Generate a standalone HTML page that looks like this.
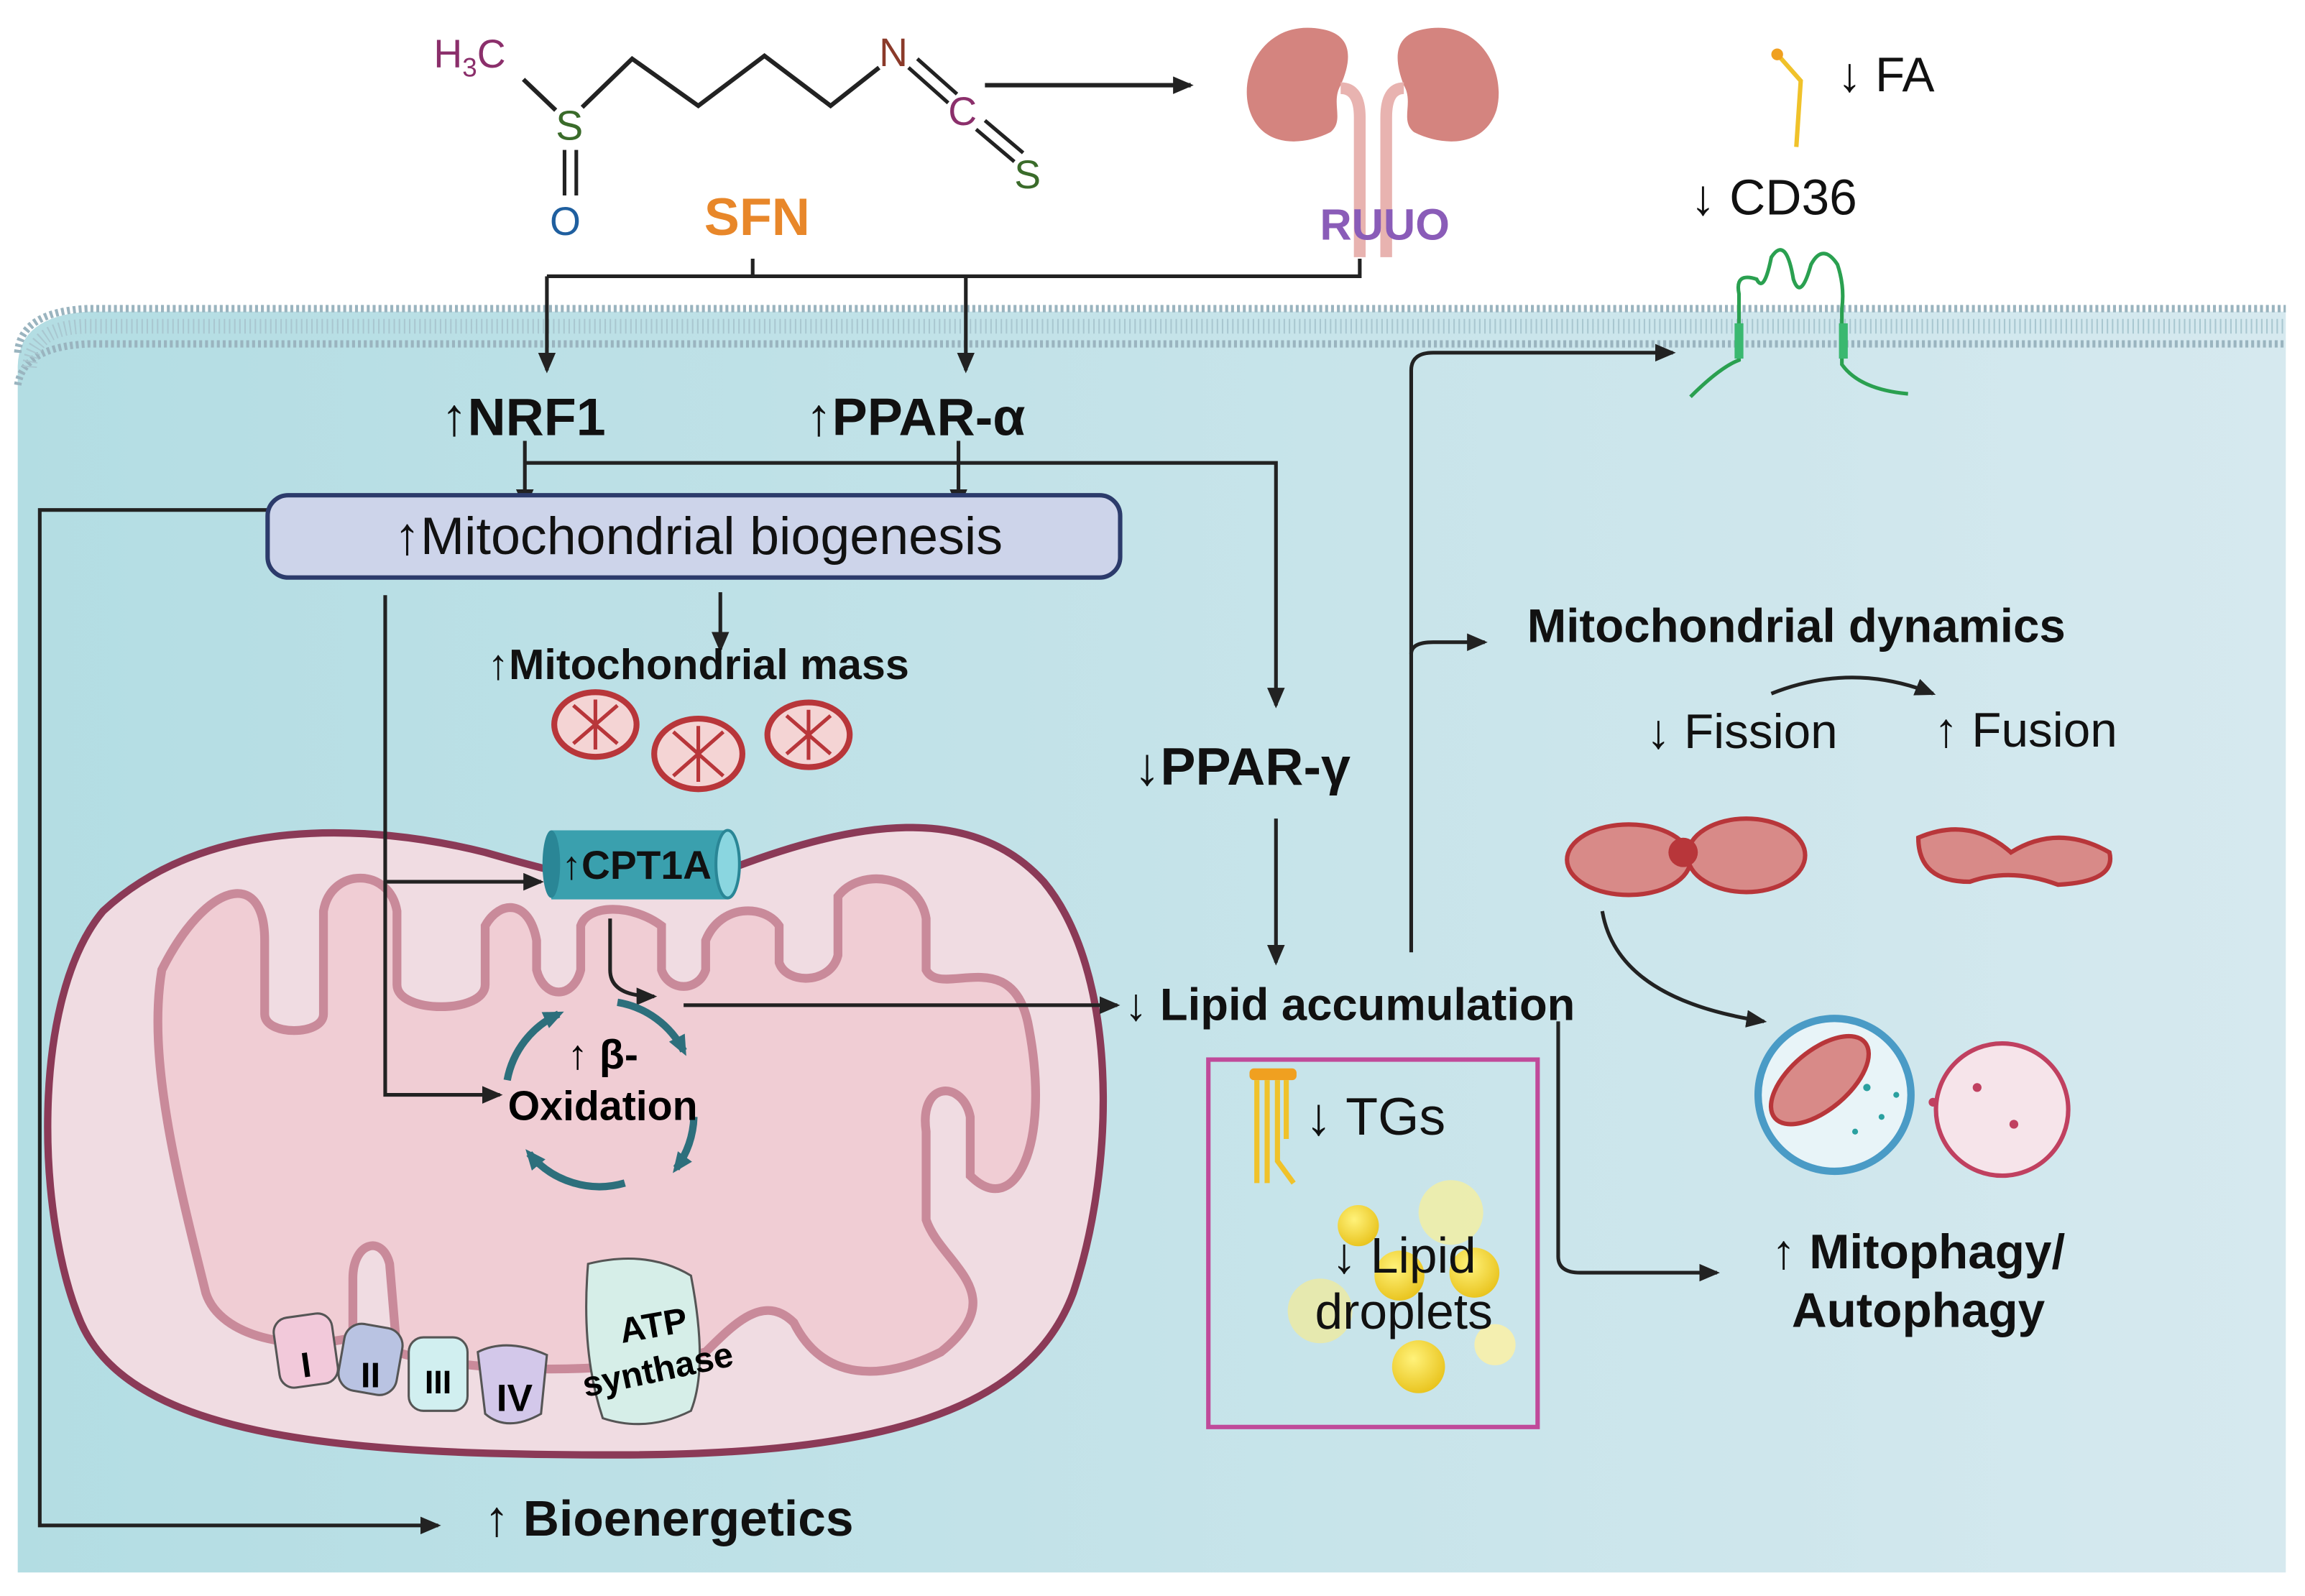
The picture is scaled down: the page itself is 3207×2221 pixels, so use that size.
<!DOCTYPE html>
<html><head><meta charset="utf-8"><style>html,body{margin:0;padding:0;background:#fff}svg{display:block}text{font-family:"Liberation Sans",sans-serif}</style></head>
<body>
<svg width="3207" height="2221" viewBox="0 0 1568 1086" xmlns="http://www.w3.org/2000/svg">
<defs>
<linearGradient id="cell" x1="0" x2="1" y1="0" y2="0"><stop offset="0" stop-color="#b3dde3"/><stop offset="1" stop-color="#d6e9ef"/></linearGradient>
<marker id="ar2" markerWidth="14" markerHeight="12" refX="12" refY="6" orient="auto" markerUnits="userSpaceOnUse"><path d="M0,0 L14,6 L0,12 Z" fill="#222"/></marker>
<marker id="tar" markerWidth="14" markerHeight="12" refX="10" refY="6" orient="auto" markerUnits="userSpaceOnUse"><path d="M0,0 L14,6 L0,12 Z" fill="#2d6f7c"/></marker>
<radialGradient id="lp" cx="0.4" cy="0.35" r="0.7"><stop offset="0" stop-color="#fff27a"/><stop offset="1" stop-color="#e8c21a"/></radialGradient>
</defs>
<path d="M12,250 Q12,215 60,212 L1555,212 L1555,1070 L12,1070 Z" fill="url(#cell)"/>
<path d="M12,240 Q14,212 60,210 L1555,210" fill="none" stroke="#9ab4bf" stroke-width="5" stroke-dasharray="2 2"/>
<path d="M12,262 Q16,236 60,234 L1555,234" fill="none" stroke="#9ab4bf" stroke-width="5" stroke-dasharray="2 2"/>
<path d="M20,250 Q22,222 60,222 L1555,222" fill="none" stroke="#a9c7d0" stroke-width="10" stroke-dasharray="1 2.5"/>
<text x="295" y="46" font-size="27" fill="#8b2f6b">H<tspan font-size="18" dy="6">3</tspan><tspan dy="-6">C</tspan></text>
<path d="M356,54 L378,75 M396,73 L430,40 L475,72 L520,38 L565,72 L598,46" stroke="#222" stroke-width="3" fill="none"/>
<text x="378" y="95" font-size="28" fill="#3a6b2a">S</text>
<path d="M384,102 V133 M392,102 V133" stroke="#222" stroke-width="2.5"/>
<text x="374" y="160" font-size="27" fill="#1f5f9f">O</text>
<text x="598" y="45" font-size="27" fill="#8b3a2a">N</text>
<path d="M618,46 L645,70 M624,40 L651,64" stroke="#222" stroke-width="2.5"/>
<text x="645" y="85" font-size="27" fill="#8b2f6b">C</text>
<path d="M664,88 L690,110 M670,82 L696,104" stroke="#222" stroke-width="2.5"/>
<text x="690" y="128" font-size="27" fill="#3a6b2a">S</text>
<line x1="670" y1="58" x2="810" y2="58" stroke="#222" stroke-width="3" marker-end="url(#ar2)"/>
<path d="M900,20 C860,12 842,50 850,75 C858,100 885,100 905,90 C915,82 905,70 912,58 C920,40 920,24 900,20 Z" fill="#d4847f"/>
<path d="M968,20 C1008,12 1025,50 1018,75 C1010,100 982,100 962,90 C952,82 962,70 955,58 C948,40 948,24 968,20 Z" fill="#d4847f"/>
<path d="M912,60 Q925,60 925,80 V175 M955,60 Q943,60 943,80 V175" fill="none" stroke="#e8b3b0" stroke-width="8"/>
<text x="515" y="160" font-size="36" font-weight="bold" fill="#e8872a" text-anchor="middle">SFN</text>
<text x="942" y="163" font-size="30" font-weight="bold" fill="#8a5cb8" text-anchor="middle">RUUO</text>
<!-- big mitochondrion -->
<path d="M70,620 C140,555 250,560 330,580 C400,600 440,610 500,590 C580,560 660,545 710,600 C760,660 760,790 730,880 C700,960 600,990 420,990 C240,990 90,980 55,900 C25,830 20,680 70,620 Z" fill="#f0dce2" stroke="#8b3a57" stroke-width="5"/>
<path d="M110,660 C140,600 180,590 180,640 V690 C180,705 220,705 220,690 V620 C225,590 265,590 270,620 V670 C270,690 330,690 330,670 V630 C340,612 360,612 365,640 V660 C370,680 390,680 395,660 V630 C400,615 430,615 450,630 V660 C455,675 475,675 480,660 V640 C490,615 520,615 530,630 V655 C535,670 565,670 570,650 V610 C585,590 625,595 630,625 V660 C640,680 690,640 700,700 C715,780 690,830 660,800 V760 C655,735 625,735 630,770 V830 C640,860 690,880 640,920 C600,940 560,940 540,900 C520,880 500,900 480,920 C400,940 300,930 270,920 L265,860 C260,840 240,845 240,870 V910 C200,920 150,910 140,880 C120,800 100,720 110,660 Z" fill="#f0cdd4" stroke="#c98a9a" stroke-width="6"/>
<g stroke="#222" stroke-width="2.5" fill="none">
<path d="M512,176 V188 M372,188 H925 V176"/>
<path d="M372,188 V252" marker-end="url(#ar2)"/>
<path d="M657,188 V252" marker-end="url(#ar2)"/>
<path d="M357,315 H868 V480" marker-end="url(#ar2)"/>
<path d="M357,300 V345" marker-end="url(#ar2)"/>
<path d="M652,300 V345" marker-end="url(#ar2)"/>
<path d="M182,347 H27 V1038 H298" marker-end="url(#ar2)"/>
<path d="M490,403 V442" marker-end="url(#ar2)"/>
<path d="M262,405 V745 H340" marker-end="url(#ar2)"/>
<path d="M262,600 H368" marker-end="url(#ar2)"/>
<path d="M868,557 V655" marker-end="url(#ar2)"/>
<path d="M960,648 V252 Q960,240 975,240 H1138" marker-end="url(#ar2)"/>
<path d="M960,445 Q960,437 975,437 H1010" marker-end="url(#ar2)"/>
<path d="M1060,695 V855 Q1060,866 1075,866 H1168" marker-end="url(#ar2)"/>
<path d="M1205,472 Q1260,450 1315,472" marker-end="url(#ar2)"/>
<path d="M1090,620 Q1100,680 1200,695" marker-end="url(#ar2)"/>
</g>
<text x="300" y="296" font-size="36" font-weight="bold" fill="#111">↑NRF1</text>
<text x="548" y="296" font-size="36" font-weight="bold" fill="#111">↑PPAR-α</text>
<rect x="182" y="337" width="580" height="56" rx="14" fill="#cdd4ea" stroke="#2c3b6b" stroke-width="3"/>
<text x="475" y="377" font-size="36" fill="#111" text-anchor="middle">↑Mitochondrial biogenesis</text>
<text x="475" y="462" font-size="29" font-weight="bold" fill="#111" text-anchor="middle">↑Mitochondrial mass</text>
<g fill="#f4d4d4" stroke="#b8363a" stroke-width="4">
<ellipse cx="405" cy="493" rx="28" ry="22"/><ellipse cx="475" cy="513" rx="30" ry="24"/><ellipse cx="550" cy="500" rx="28" ry="22"/>
</g>
<g stroke="#b8363a" stroke-width="2.5"><path d="M405,476 V510 M390,480 L420,506 M420,480 L390,506 M475,494 V532 M458,498 L492,528 M492,498 L458,528 M550,483 V517 M535,487 L565,513 M565,487 L535,513"/></g>
<g stroke="#555" stroke-width="1.5">
<rect x="188" y="895" width="40" height="48" rx="10" fill="#f2c9da" transform="rotate(-8 208 919)"/>
<rect x="232" y="902" width="40" height="46" rx="12" fill="#b9c3e2" transform="rotate(10 252 925)"/>
<rect x="278" y="910" width="40" height="50" rx="10" fill="#d1eff0"/>
<path d="M325,920 Q345,910 372,922 L368,962 Q345,975 330,962 Z" fill="#d3c8ea"/>
<path d="M400,860 Q440,850 470,868 Q482,930 470,960 Q440,975 410,965 Q395,920 400,860 Z" fill="#d6eee8"/>
</g>
<text x="208" y="937" font-size="24" font-weight="bold" text-anchor="middle" transform="rotate(-8 208 928)">I</text>
<text x="252" y="944" font-size="24" font-weight="bold" text-anchor="middle">II</text>
<text x="298" y="948" font-size="22" font-weight="bold" text-anchor="middle">III</text>
<text x="350" y="960" font-size="26" font-weight="bold" text-anchor="middle">IV</text>
<text x="445" y="910" font-size="24" font-weight="bold" text-anchor="middle" transform="rotate(-10 445 905)">ATP</text>
<text x="448" y="940" font-size="24" font-weight="bold" text-anchor="middle" transform="rotate(-12 448 935)">synthase</text>
<rect x="375" y="565" width="120" height="47" fill="#3aa0ae"/>
<ellipse cx="375" cy="588" rx="6" ry="23" fill="#2a8696"/>
<ellipse cx="495" cy="588" rx="8" ry="23" fill="#8ad6e0" stroke="#2a8696" stroke-width="2"/>
<text x="433" y="598" font-size="27" font-weight="bold" fill="#111" text-anchor="middle">↑CPT1A</text>
<path d="M415,625 V660 Q415,678 445,678" stroke="#222" stroke-width="2.5" fill="none" marker-end="url(#ar2)"/>
<line x1="465" y1="684" x2="760" y2="684" stroke="#222" stroke-width="2.5" marker-end="url(#ar2)"/>
<g fill="none" stroke="#2d6f7c" stroke-width="5">
<path d="M420,682 A62,62 0 0,1 465,715" marker-end="url(#tar)"/>
<path d="M472,760 A62,62 0 0,1 460,795" marker-end="url(#tar)"/>
<path d="M425,805 A62,62 0 0,1 360,785" marker-end="url(#tar)"/>
<path d="M345,735 A62,62 0 0,1 380,690" marker-end="url(#tar)"/>
</g>
<text x="410" y="727" font-size="28" font-weight="bold" text-anchor="middle">↑ β-</text>
<text x="410" y="762" font-size="28" font-weight="bold" text-anchor="middle">Oxidation</text>
<text x="845" y="534" font-size="36" font-weight="bold" fill="#111" text-anchor="middle">↓PPAR-γ</text>
<text x="765" y="694" font-size="31" font-weight="bold" fill="#111">↓ Lipid accumulation</text>
<rect x="822" y="721" width="224" height="250" fill="none" stroke="#c04a9a" stroke-width="3"/>
<rect x="850" y="727" width="32" height="8" rx="3" fill="#f0a020"/>
<g stroke="#f0c22a" stroke-width="3.5" fill="none"><path d="M855,735 V805 M862,735 V805 M869,735 V790 L880,805 M875,735 V775"/></g>
<text x="888" y="772" font-size="36" fill="#111">↓ TGs</text>
<g>
<circle cx="987" cy="825" r="22" fill="#f4efa0" opacity="0.8"/><circle cx="924" cy="834" r="14" fill="url(#lp)"/>
<circle cx="898" cy="892" r="22" fill="#eeeaa0" opacity="0.8"/><circle cx="952" cy="868" r="17" fill="url(#lp)"/>
<circle cx="1003" cy="866" r="17" fill="url(#lp)"/><circle cx="965" cy="930" r="18" fill="url(#lp)"/><circle cx="1017" cy="915" r="14" fill="#f4efb0"/>
</g>
<text x="955" y="866" font-size="34" fill="#111" text-anchor="middle">↓ Lipid</text>
<text x="955" y="904" font-size="34" fill="#111" text-anchor="middle">droplets</text>
<text x="1222" y="437" font-size="32" font-weight="bold" fill="#111" text-anchor="middle">Mitochondrial dynamics</text>
<text x="1185" y="509" font-size="33" fill="#111" text-anchor="middle">↓ Fission</text>
<text x="1378" y="508" font-size="33" fill="#111" text-anchor="middle">↑ Fusion</text>
<g fill="#d88a88" stroke="#b8363a" stroke-width="3">
<ellipse cx="1108" cy="585" rx="42" ry="24"/><ellipse cx="1188" cy="582" rx="40" ry="25"/>
<path d="M1305,570 Q1340,555 1368,580 Q1400,560 1435,580 Q1440,600 1400,602 Q1368,590 1340,600 Q1305,600 1305,570 Z"/>
</g>
<circle cx="1145" cy="580" r="10" fill="#b8363a"/>
<circle cx="1248" cy="745" r="52" fill="#e8f4f8" stroke="#4a9bc6" stroke-width="5"/>
<circle cx="1362" cy="755" r="45" fill="#f6e4ea" stroke="#c04060" stroke-width="3"/>
<ellipse cx="1238" cy="735" rx="40" ry="20" fill="#d88a88" stroke="#b8363a" stroke-width="3" transform="rotate(-40 1238 735)"/>
<g fill="#2aa0a0"><circle cx="1270" cy="740" r="2.5"/><circle cx="1280" cy="760" r="2"/><circle cx="1262" cy="770" r="2"/><circle cx="1290" cy="745" r="2"/></g>
<g fill="#c04060"><circle cx="1345" cy="740" r="3"/><circle cx="1370" cy="765" r="3"/><circle cx="1315" cy="750" r="3"/></g>
<text x="1305" y="863" font-size="33" font-weight="bold" fill="#111" text-anchor="middle">↑ Mitophagy/</text>
<text x="1305" y="903" font-size="33" font-weight="bold" fill="#111" text-anchor="middle">Autophagy</text>
<text x="1150" y="146" font-size="34" fill="#111">↓ CD36</text>
<text x="1250" y="62" font-size="33" fill="#111">↓ FA</text>
<path d="M1210,38 L1225,55 L1222,100" stroke="#f0c22a" stroke-width="3" fill="none"/>
<circle cx="1209" cy="37" r="4" fill="#f0a020"/>
<path d="M1150,270 Q1170,250 1183,245 V200 Q1180,185 1195,190 Q1200,200 1205,175 Q1215,160 1220,190 Q1225,205 1232,180 Q1240,165 1250,180 Q1255,195 1253,210 V248 Q1265,265 1298,268" fill="none" stroke="#2aa050" stroke-width="2.5"/>
<rect x="1180" y="220" width="6" height="24" fill="#3ab870"/><rect x="1251" y="220" width="6" height="24" fill="#3ab870"/>
<text x="455" y="1045" font-size="34" font-weight="bold" fill="#111" text-anchor="middle">↑ Bioenergetics</text>
</svg>
</body></html>
